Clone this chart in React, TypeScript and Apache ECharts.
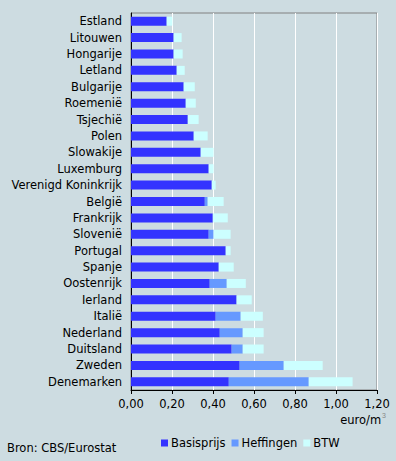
import React, { useEffect, useRef } from "react";
import * as echarts from "echarts";

const categories = [
  "Estland", "Litouwen", "Hongarije", "Letland", "Bulgarije", "Roemenië", "Tsjechië",
  "Polen", "Slowakije", "Luxemburg", "Verenigd Koninkrijk", "België", "Frankrijk",
  "Slovenië", "Portugal", "Spanje", "Oostenrijk", "Ierland", "Italië", "Nederland",
  "Duitsland", "Zweden", "Denemarken",
];
const basisprijs = [0.174, 0.208, 0.208, 0.223, 0.257, 0.267, 0.277, 0.306, 0.34, 0.379, 0.394, 0.36, 0.399, 0.379, 0.462, 0.428, 0.384, 0.515, 0.413, 0.433, 0.491, 0.53, 0.477];
const heffingen = [0, 0, 0, 0, 0, 0, 0, 0, 0, 0, 0, 0.014, 0, 0.024, 0, 0, 0.083, 0, 0.122, 0.112, 0.054, 0.215, 0.39];
const btw = [0.028, 0.039, 0.044, 0.039, 0.054, 0.049, 0.053, 0.068, 0.063, 0.024, 0.019, 0.078, 0.073, 0.083, 0.024, 0.073, 0.093, 0.074, 0.108, 0.102, 0.102, 0.19, 0.214];
const xTicks = [0, 0.2, 0.4, 0.6, 0.8, 1.0, 1.2];

const FONT = "DejaVu Sans";
const FS = 11.5;

export default function App() {
  const ref = useRef<HTMLDivElement>(null);
  useEffect(() => {
    const chart = echarts.init(ref.current!, null, { renderer: "svg" });
    chart.setOption({
      animation: false,
      backgroundColor: "#cddce1",
      textStyle: { fontFamily: FONT },
      grid: {
        left: 131, top: 13, right: 19, bottom: 71,
        show: true, borderColor: "#808080", borderWidth: 1, backgroundColor: "transparent",
      },
      legend: {
        left: 156, top: 432, itemWidth: 7, itemHeight: 7, itemGap: 6,
        icon: "rect",
        textStyle: { fontFamily: FONT, fontSize: FS, color: "#000", padding: [0, 0, 0, -2] },
        data: ["Basisprijs", "Heffingen", "BTW"],
      },
      xAxis: {
        type: "value", min: 0, max: 1.2, interval: 0.2,
        axisLine: { show: true, lineStyle: { color: "#000" } },
        axisTick: { show: true, length: 4, lineStyle: { color: "#000" } },
        axisLabel: {
          fontFamily: FONT, fontSize: FS, color: "#000", margin: 8,
          formatter: (v: number) => {
            const t = xTicks.find((x) => Math.abs(x - v) < 1e-6);
            return (t ?? v).toFixed(2).replace(".", ",");
          },
        },
        splitLine: { show: true, lineStyle: { color: "#ffffff", width: 1 } },
      },
      yAxis: {
        type: "category", inverse: true, data: categories,
        axisLine: { show: true, lineStyle: { color: "#000" } },
        axisTick: { show: false },
        axisLabel: { fontFamily: FONT, fontSize: FS, color: "#000", margin: 9 },
      },
      series: [
        { name: "Basisprijs", type: "bar", stack: "t", data: basisprijs, barWidth: 9, itemStyle: { color: "#3333ff" } },
        { name: "Heffingen", type: "bar", stack: "t", data: heffingen, barWidth: 9, itemStyle: { color: "#6699ff" } },
        { name: "BTW", type: "bar", stack: "t", data: btw, barWidth: 9, itemStyle: { color: "#ccffff" } },
      ],
      graphic: [
        {
          type: "text", right: 10, top: 412,
          style: {
            text: "euro/m{s|3}", fontFamily: FONT, fontSize: FS, fill: "#000",
            rich: { s: { fontSize: 7, verticalAlign: "top", padding: [0, 0, 8, 1], fill: "#888" } },
          },
        },
        {
          type: "text", left: 7, top: 442,
          style: { text: "Bron: CBS/Eurostat", fontFamily: FONT, fontSize: FS, fill: "#000" },
        },
      ],
    });
    return () => chart.dispose();
  }, []);
  return <div ref={ref} style={{ width: 396, height: 461, position: "absolute", left: 0, top: 0 }} />;
}
